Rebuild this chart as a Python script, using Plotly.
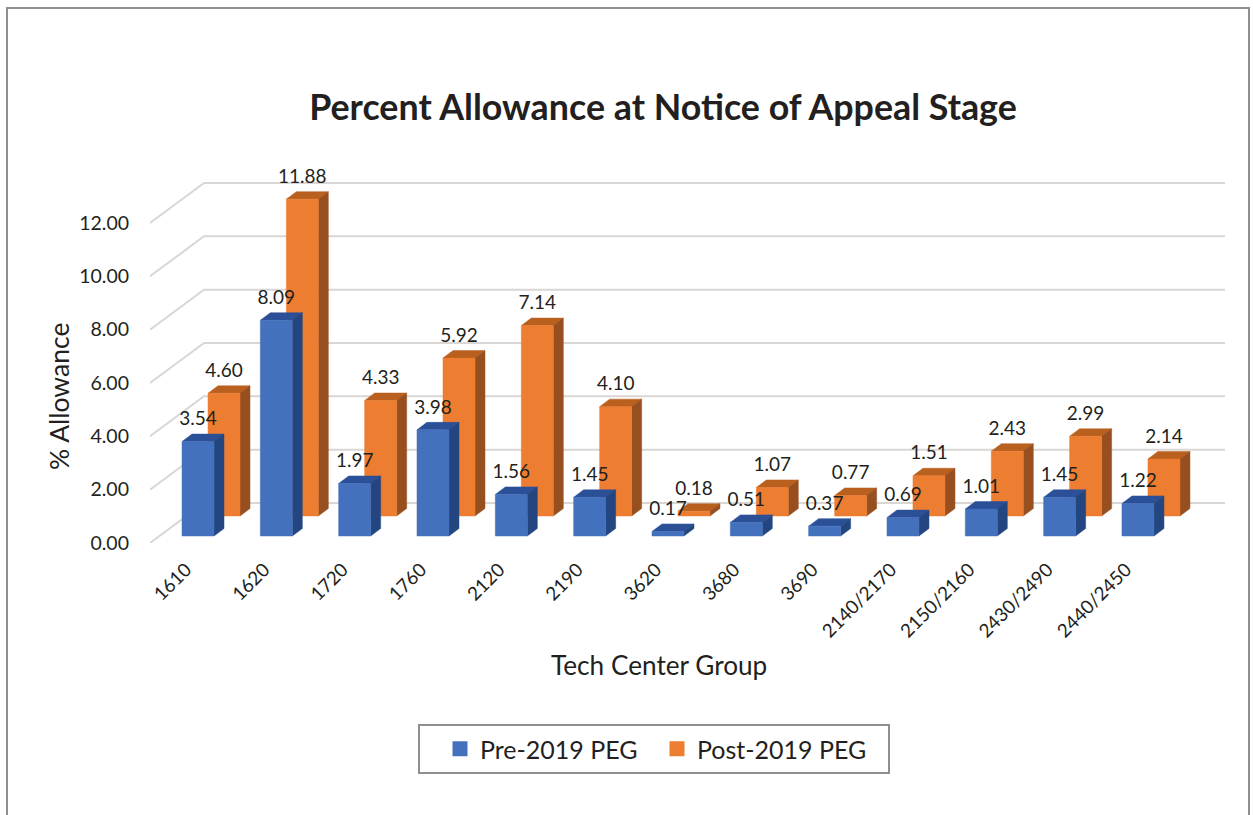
import plotly.graph_objects as go

categories = ["1610", "1620", "1720", "1760", "2120", "2190", "3620", "3680", "3690",
              "2140/2170", "2150/2160", "2430/2490", "2440/2450"]
pre_2019 = [3.54, 8.09, 1.97, 3.98, 1.56, 1.45, 0.17, 0.51, 0.37, 0.69, 1.01, 1.45, 1.22]
post_2019 = [4.60, 11.88, 4.33, 5.92, 7.14, 4.10, 0.18, 1.07, 0.77, 1.51, 2.43, 2.99, 2.14]
y_ticks = [0, 2, 4, 6, 8, 10, 12]

W, H = 1253, 815
L, R, T, B = 150, 1225, 150, 543          # plot area in page pixels
PX_X = 78.33                              # pixels per category
PX_Y = 26.67                              # pixels per unit of value
X_MIN = (L - 198) / PX_X
X_MAX = (R - 198) / PX_X
Y_MAX = (B - T) / PX_Y

BAR_W = 32 / PX_X
SIDE_DX, SIDE_DY = 10 / PX_X, 7.5 / PX_Y
DEPTH_DX, DEPTH_DY = 54 / PX_X, 40 / PX_Y
BLUE_DY = 7 / PX_Y
POST_DX, POST_DY = 26 / PX_X, 20 / PX_Y
LABEL_DY = 21 / PX_Y
TICK_SHIFT = -12 / PX_X
GRID = "#d9d6d3"
TEXT = "#231f20"
FONT = "Lato"
BLUE = "#4471bd"
ORANGE = "#ed7d31"


def px(x):
    return (x - L) / (R - L)


def py(y):
    return (B - y) / (B - T)


def faces(values, xshift, yshift):
    fx, fy, sx, sy, tx, ty = [], [], [], [], [], []
    for i, v in enumerate(values):
        l, r = i + xshift - BAR_W / 2, i + xshift + BAR_W / 2
        b, t = yshift, yshift + v
        fx += [l, r, r, l, l, None]
        fy += [b, b, t, t, b, None]
        sx += [r, r + SIDE_DX, r + SIDE_DX, r, r, None]
        sy += [b, b + SIDE_DY, t + SIDE_DY, t, b, None]
        tx += [l, r, r + SIDE_DX, l + SIDE_DX, l, None]
        ty += [t, t, t + SIDE_DY, t + SIDE_DY, t, None]
    return (fx, fy), (sx, sy), (tx, ty)


fig = go.Figure()

# gridlines: sloped side wall plus back wall
gx, gy = [], []
for t in y_ticks:
    gx += [X_MIN, X_MIN + DEPTH_DX, X_MAX, None]
    gy += [t, t + DEPTH_DY, t + DEPTH_DY, None]
fig.add_trace(go.Scatter(x=gx, y=gy, mode="lines", line=dict(color=GRID, width=2),
                         hoverinfo="skip", showlegend=False))


def add_series(values, xshift, yshift, front, side, top):
    f, s, tp = faces(values, xshift, yshift)
    for (xs, ys), col in ((tp, top), (s, side), (f, front)):
        fig.add_trace(go.Scatter(x=xs, y=ys, mode="lines", fill="toself", fillcolor=col,
                                 line=dict(color=col, width=0.5), hoverinfo="skip",
                                 showlegend=False))


add_series(post_2019, POST_DX, BLUE_DY + POST_DY, ORANGE, "#984f20", "#b9601f")
add_series(pre_2019, 0, BLUE_DY, BLUE, "#234680", "#2b5098")

# data labels
for values, xshift, yshift in ((post_2019, POST_DX, BLUE_DY + POST_DY), (pre_2019, 0, BLUE_DY)):
    fig.add_trace(go.Scatter(
        x=[i + xshift for i in range(len(values))],
        y=[v + yshift + LABEL_DY for v in values],
        mode="text", text=[f"{v:.2f}" for v in values], textposition="middle center",
        textfont=dict(family=FONT, size=19, color=TEXT),
        cliponaxis=False, hoverinfo="skip", showlegend=False))

# legend entries
for name, col in (("Pre-2019 PEG", BLUE), ("Post-2019 PEG", ORANGE)):
    fig.add_trace(go.Scatter(x=[None], y=[None], mode="markers", name=name,
                             marker=dict(symbol="square", size=15, color=col)))

frame = "#8f8f8f"
fig.update_layout(
    width=W, height=H, autosize=False,
    paper_bgcolor="white", plot_bgcolor="rgba(0,0,0,0)",
    margin=dict(l=L, r=W - R, t=T, b=H - B),
    font=dict(family=FONT, color=TEXT),
    title=dict(text="<b>Percent Allowance at Notice of Appeal Stage</b>",
               x=663 / W, xanchor="center", xref="container",
               y=1 - 107 / H, yanchor="middle", yref="container",
               font=dict(family=FONT, size=35.8, color=TEXT)),
    xaxis=dict(range=[X_MIN, X_MAX], tickmode="array",
               tickvals=[i + TICK_SHIFT for i in range(len(categories))],
               ticktext=categories, tickangle=-45, showgrid=False, zeroline=False, showline=False,
               ticks="", ticklabelstandoff=11, tickfont=dict(family=FONT, size=18.8, color=TEXT)),
    yaxis=dict(range=[0, Y_MAX], tickmode="array", tickvals=y_ticks, tickformat=".2f",
               showgrid=False, zeroline=False, showline=False, ticks="", ticklabelstandoff=20,
               tickfont=dict(family=FONT, size=19.5, color=TEXT)),
    legend=dict(orientation="h", x=440 / W, y=1 - 749 / H, xref="container", yref="container",
                xanchor="left", yanchor="middle", bgcolor="rgba(0,0,0,0)", borderwidth=0,
                entrywidth=172, entrywidthmode="pixels",
                font=dict(family=FONT, size=25, color=TEXT), itemsizing="trace"),
    annotations=[
        dict(text="Tech Center Group", x=px(659), y=py(665), xref="paper", yref="paper",
             xanchor="center", yanchor="middle", showarrow=False,
             font=dict(family=FONT, size=26.2, color=TEXT)),
        dict(text="% Allowance", x=px(59), y=py(397), xref="paper", yref="paper", textangle=-90,
             xanchor="center", yanchor="middle", showarrow=False,
             font=dict(family=FONT, size=26.5, color=TEXT)),
    ],
    shapes=[
        dict(type="rect", xref="paper", yref="paper",
             x0=px(419), x1=px(889), y0=py(725), y1=py(773),
             line=dict(color=frame, width=2), fillcolor="rgba(0,0,0,0)"),
        dict(type="path", xref="paper", yref="paper",
             path=f"M {px(7)} {py(815)} L {px(7)} {py(8)} L {px(1249)} {py(8)} L {px(1249)} {py(815)}",
             line=dict(color=frame, width=2)),
    ],
)

fig.write_html("out.html", config={"displayModeBar": False},
               post_script="document.body.style.margin='0';")
